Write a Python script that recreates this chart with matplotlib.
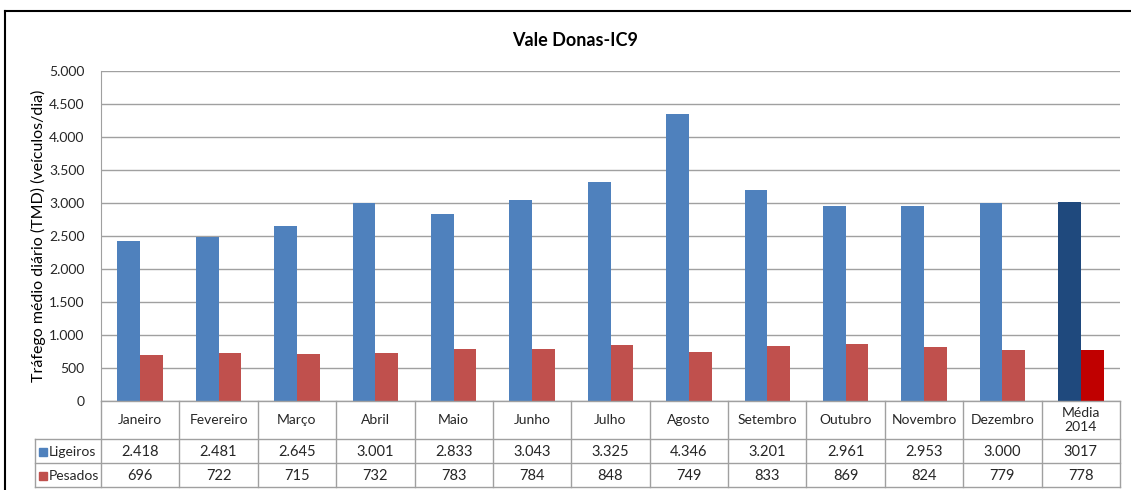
import matplotlib.pyplot as plt
from matplotlib.lines import Line2D
from matplotlib.patches import Rectangle

plt.rcParams['font.family'] = ['Lato', 'DejaVu Sans']

categorias = ["Janeiro", "Fevereiro", "Março", "Abril", "Maio", "Junho", "Julho",
              "Agosto", "Setembro", "Outubro", "Novembro", "Dezembro", "Média\n2014"]
ligeiros = [2418, 2481, 2645, 3001, 2833, 3043, 3325, 4346, 3201, 2961, 2953, 3000, 3017]
pesados = [696, 722, 715, 732, 783, 784, 848, 749, 833, 869, 824, 779, 778]
yticks = [0, 500, 1000, 1500, 2000, 2500, 3000, 3500, 4000, 4500, 5000]

AZUL, VERMELHO = '#4F81BD', '#C0504D'
AZUL_MEDIA, VERMELHO_MEDIA = '#1F497D', '#C00000'
GRELHA = '#A0A0A0'
W, H = 1131, 490

fig = plt.figure(figsize=(W / 100, H / 100), dpi=100)

# area do grafico (pixels: x 101..1120, y 71..401)
ax = fig.add_axes([101 / W, 1 - 401 / H, 1019 / W, 330 / H])
n = len(categorias)
x = list(range(n))
bw = 0.29
cores_l = [AZUL] * (n - 1) + [AZUL_MEDIA]
cores_p = [VERMELHO] * (n - 1) + [VERMELHO_MEDIA]
ax.bar([i - bw / 2 for i in x], ligeiros, width=bw, color=cores_l, zorder=3)
ax.bar([i + bw / 2 for i in x], pesados, width=bw, color=cores_p, zorder=3)
ax.set_xlim(-0.5, n - 0.5)
ax.set_ylim(0, 5000)
ax.set_yticks(yticks)
ax.set_yticklabels([f"{v:,}".replace(",", ".") for v in yticks], fontsize=10, color='#262626')
ax.set_xticks([])
ax.tick_params(axis='y', length=0, pad=12)
ax.grid(axis='y', color=GRELHA, linewidth=1, zorder=0)
for s in ['top', 'right', 'bottom']:
    ax.spines[s].set_visible(False)
ax.spines['left'].set_color(GRELHA)
ax.set_ylabel("Tráfego médio diário (TMD) (veículos/dia)", fontsize=11.5, labelpad=2)

fig.text(575 / W, 1 - 40 / H, "Vale Donas-IC9", ha='center', va='center',
         fontsize=13, fontweight='bold')

# tabela de dados (pixels: y 401..487)
tab = fig.add_axes([101 / W, 1 - 487 / H, 1019 / W, 86 / H])
tab.set_xlim(-0.5, n - 0.5)
tab.set_ylim(86, 0)
tab.axis('off')
cw = 1019 / n
xl = -0.5 - (101 - 35) / cw
kw = dict(color=GRELHA, linewidth=1, clip_on=False)
tab.plot([-0.5, n - 0.5], [0, 0], **kw)
for yy in (38, 62, 86):
    tab.plot([xl, n - 0.5], [yy, yy], **kw)
for i in range(n + 1):
    tab.plot([i - 0.5, i - 0.5], [0, 86], **kw)
tab.plot([xl, xl], [38, 86], **kw)

def fmt(v, i):
    if i == n - 1:
        return str(v)
    return f"{v:,}".replace(",", ".")

for i, c in enumerate(categorias):
    tab.text(i, 19, c, ha='center', va='center', fontsize=10, color='#262626',
             linespacing=1.2)
    tab.text(i, 50.5, fmt(ligeiros[i], i), ha='center', va='center', fontsize=10.5,
             color='#262626')
    tab.text(i, 74.5, fmt(pesados[i], i), ha='center', va='center', fontsize=10.5,
             color='#262626')

for yy, nome, cor in [(50.5, "Ligeiros", AZUL), (74.5, "Pesados", VERMELHO)]:
    fig.patches.append(Rectangle((39 / W, 1 - (401 + yy + 4) / H), 8 / W, 8 / H,
                                 transform=fig.transFigure, color=cor))
    fig.text(49 / W, 1 - (401 + yy) / H, nome, ha='left', va='center', fontsize=10,
             color='#262626')

# moldura
fig.add_artist(Line2D([5 / W, 5 / W], [0, 1 - 11 / H], color='black', linewidth=1.5))
fig.add_artist(Line2D([5 / W, 1], [1 - 11 / H, 1 - 11 / H], color='black', linewidth=1.5))

fig.savefig("out.png", dpi=100)
